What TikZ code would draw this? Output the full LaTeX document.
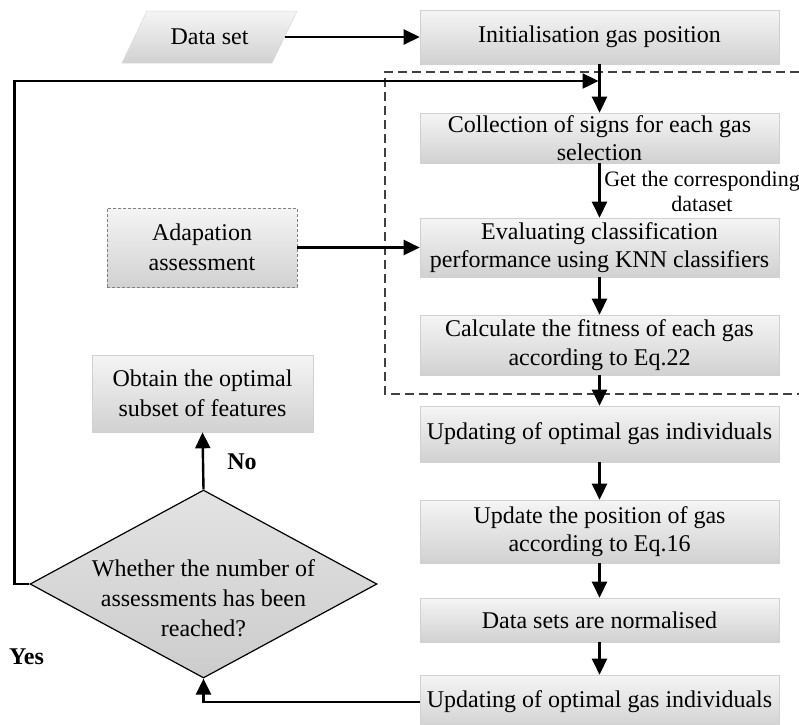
\documentclass[tikz,border=0pt]{standalone}
\usepackage{fontspec}
\setmainfont{Liberation Serif}
\usetikzlibrary{arrows.meta,shapes.geometric,calc}
\begin{document}
\begin{tikzpicture}[x=1pt,y=-1pt,
  font=\fontsize{24}{28.5}\selectfont,
  box/.style={rectangle, draw=black!18, line width=0.6pt, top color=black!4, bottom color=black!18,
              minimum width=359pt, inner sep=0pt, align=center},
  arr/.style={line width=2.4pt, line join=miter, -{Triangle[length=16pt,width=15pt]}},
  frame/.style={dash pattern=on 9pt off 5pt, line width=1.2pt, black!75},
  lab/.style={font=\bfseries\fontsize{24}{28}\selectfont, inner sep=0pt}
]
\useasboundingbox (0,0) rectangle (799,724);

% dashed frame
\draw[frame] (799,72) -- (385,72) -- (385,394) -- (799,394);

% data set parallelogram
\shadedraw[top color=black!4, bottom color=black!18, draw=black!15, line width=0.5pt]
  (147,11) -- (297,11) -- (272,63) -- (122,63) -- cycle;
\node[inner sep=0pt, minimum width=150pt, minimum height=52pt] (ds) at (209.5,37) {Data set};

% right column
\node[box, minimum height=54pt] (init)   at (599.5,37)    {Initialisation gas position};
\node[box, minimum height=50pt] (coll)   at (599.5,138)   {Collection of signs for each gas\\selection};
\node[box, minimum height=59pt] (eval)   at (599.5,247.5) {Evaluating classification\\performance using KNN classifiers};
\node[box, minimum height=60pt] (calc)   at (599.5,345)   {Calculate the fitness of each gas\\according to Eq.22};
\node[box, minimum height=56pt] (upd1)   at (599.5,434)   {Updating of optimal gas individuals};
\node[box, minimum height=63pt] (updpos) at (599.5,531.5) {Update the position of gas\\according to Eq.16};
\node[box, minimum height=44pt] (norm)   at (599.5,620)   {Data sets are normalised};
\node[box, minimum height=54pt] (upd2)   at (599.5,702)   {Updating of optimal gas individuals};

% left column
\node[box, draw=black!50, dash pattern=on 3pt off 2pt, minimum width=190pt, minimum height=79pt,
      font=\fontsize{24}{30}\selectfont] (adapt) at (202,247.5) {Adapation\\assessment};
\node[box, minimum width=221pt, minimum height=77pt, font=\fontsize{24}{30}\selectfont]
      (obtain) at (202.5,393.5) {Obtain the optimal\\subset of features};
\node[diamond, draw=black, line width=1.2pt, top color=black!11, bottom color=black!20,
      minimum width=347pt, minimum height=188pt, inner sep=0pt] (dia) at (203.5,584) {};
\node[align=center, inner sep=0pt, font=\fontsize{24}{30}\selectfont] (diat) at (203.5,598)
      {Whether the number of\\assessments has been\\reached?};

% labels
\node[lab] (no)  at (242,462)  {No};
\node[lab] (yes) at (26.5,657) {Yes};
\node[align=center, inner sep=0pt, font=\fontsize{22}{25}\selectfont] (get) at (702,191)
      {Get the corresponding\\dataset};

% connectors
\coordinate (fbend) at (598.5,81);
\draw[arr] (ds.east) -- (init.west);
\draw[arr] (init.south) -- (coll.north);
\draw[arr] (dia.west) -- ++(-15,0) |- (fbend);
\draw[arr] (coll.south) -- (eval.north);
\draw[arr] (adapt.east) -- (eval.west);
\draw[arr] (eval.south) -- (calc.north);
\draw[arr] (calc.south) -- (upd1.north);
\draw[arr] (upd1.south) -- (updpos.north);
\draw[arr] (updpos.south) -- (norm.north);
\draw[arr] (norm.south) -- (upd2.north);
\draw[arr] (upd2.west) -| (dia.south);
\draw[arr] (dia.north) -- (obtain.south);
\end{tikzpicture}
\end{document}
